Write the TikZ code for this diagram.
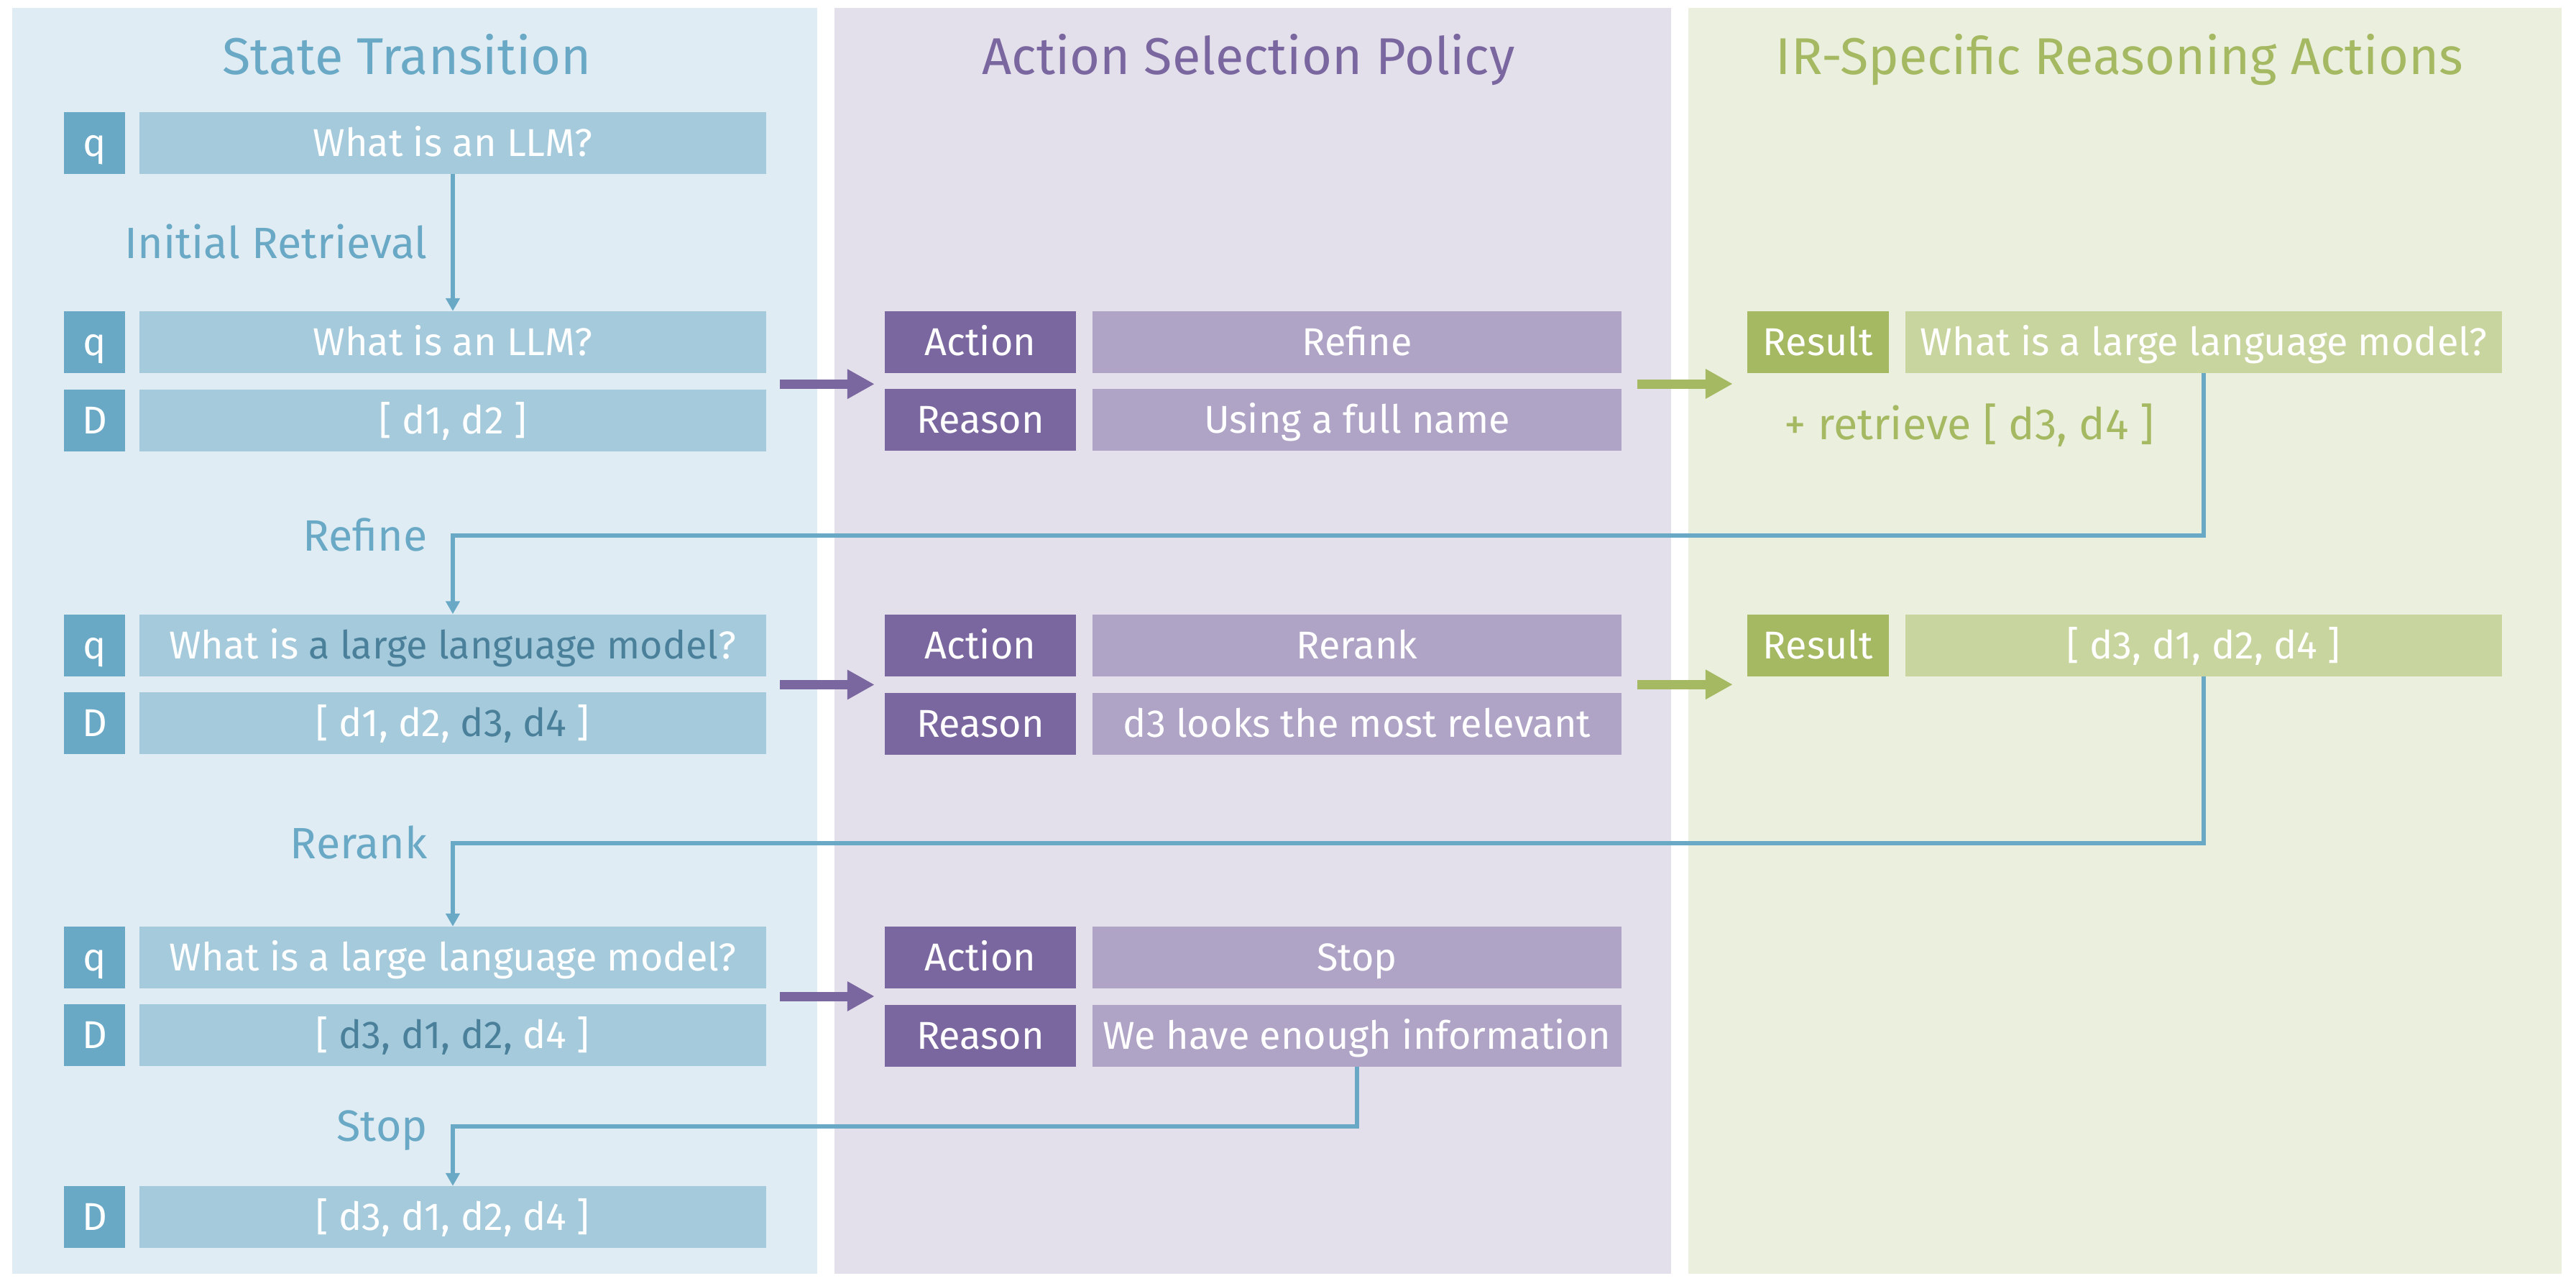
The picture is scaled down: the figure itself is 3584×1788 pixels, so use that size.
\documentclass[tikz,border=0pt]{standalone}
\usepackage{fontspec}
\setmainfont{Fira Sans}
\usetikzlibrary{arrows.meta,calc}
\definecolor{pblue}{HTML}{DFECF3}
\definecolor{ppurple}{HTML}{E3E0EC}
\definecolor{pgreen}{HTML}{EBEFDE}
\definecolor{bluedark}{HTML}{6AA9C6}
\definecolor{bluelight}{HTML}{A4CADC}
\definecolor{bluetext}{HTML}{4B809B}
\definecolor{purpledark}{HTML}{7B679F}
\definecolor{purplelight}{HTML}{AFA3C6}
\definecolor{greendark}{HTML}{A5B962}
\definecolor{greenlight}{HTML}{C8D59F}
\newcommand{\hlt}[1]{\textcolor{bluetext}{#1}}
\begin{document}
\begin{tikzpicture}[x=1pt,y=-1pt,
  bx/.style={minimum height=86pt, inner sep=0pt, text=white,
    font=\fontsize{54}{60}\selectfont, text height=37pt, text depth=0pt},
  qkey/.style={bx, fill=bluedark, minimum width=85pt},
  qval/.style={bx, fill=bluelight, minimum width=872pt},
  akey/.style={bx, fill=purpledark, minimum width=266pt},
  aval/.style={bx, fill=purplelight, minimum width=736pt},
  rkey/.style={bx, fill=greendark, minimum width=197pt},
  rval/.style={bx, fill=greenlight, minimum width=830pt},
  ttl/.style={inner sep=0pt, font=\fontsize{72}{80}\selectfont, text height=49.6pt, text depth=0pt},
  lbl/.style={inner sep=0pt, text=bluedark, font=\fontsize{61}{70}\selectfont, text height=42pt, text depth=0pt, anchor=east},
  flow/.style={draw=bluedark, line width=6pt, -{Triangle[width=19pt,length=18pt]}},
  parrow/.style={draw=purpledark, line width=13pt, -{Triangle[width=39pt,length=38pt]}},
  garrow/.style={draw=greendark, line width=13pt, -{Triangle[width=39pt,length=38pt]}}
]
\useasboundingbox (0,0) rectangle (3584,1788);
\fill[white] (0,0) rectangle (3584,1788);
\fill[pblue] (17,11) rectangle (1137,1772);
\fill[ppurple] (1161,11) rectangle (2325,1772);
\fill[pgreen] (2349,11) rectangle (3564,1772);

% titles
\node[ttl, text=bluedark] (t1) at (566,79) {State Transition};
\node[ttl, text=purpledark] (t2) at (1737,79) {Action Selection Policy};
\node[ttl, text=greendark] (t3) at (2949,79) {IR-Specific Reasoning Actions};

% column 1: states
\node[qkey] (k1) at (131.5,199) {q};
\node[qval] (v1) at (630,199) {What is an LLM?};
\node[qkey] (k2q) at (131.5,476) {q};
\node[qval] (v2q) at (630,476) {What is an LLM?};
\node[qkey] (k2d) at (131.5,584.5) {D};
\node[qval] (v2d) at (630,584.5) {[ d1, d2 ]};
\node[qkey] (k3q) at (131.5,897.5) {q};
\node[qval] (v3q) at (630,897.5) {What is \hlt{a large language model}?};
\node[qkey] (k3d) at (131.5,1005.5) {D};
\node[qval] (v3d) at (630,1005.5) {[ d1, d2, \hlt{d3, d4} ]};
\node[qkey] (k4q) at (131.5,1332) {q};
\node[qval] (v4q) at (630,1332) {What is a large language model?};
\node[qkey] (k4d) at (131.5,1440) {D};
\node[qval] (v4d) at (630,1440) {[ \hlt{d3, d1, d2,} d4 ]};
\node[qkey] (k5d) at (131.5,1693) {D};
\node[qval] (v5d) at (630,1693) {[ d3, d1, d2, d4 ]};

% column 2: policy
\node[akey] (a1) at (1364,476) {Action};
\node[aval] (a1v) at (1888,476) {Refine};
\node[akey] (r1) at (1364,584) {Reason};
\node[aval] (r1v) at (1888,584) {Using a full name};
\node[akey] (a2) at (1364,898) {Action};
\node[aval] (a2v) at (1888,898) {Rerank};
\node[akey] (r2) at (1364,1006.5) {Reason};
\node[aval] (r2v) at (1888,1006.5) {d3 looks the most relevant};
\node[akey] (a3) at (1364,1332) {Action};
\node[aval] (a3v) at (1888,1332) {Stop};
\node[akey] (r3) at (1364,1440.5) {Reason};
\node[aval] (r3v) at (1888,1440.5) {We have enough information};

% column 3: results
\node[rkey] (res1) at (2529.5,476) {Result};
\node[rval] (res1v) at (3066,476) {What is a large language model?};
\node[inner sep=0pt, text=greendark, font=\fontsize{61}{70}\selectfont, text height=42pt, text depth=0pt] (retr) at (2740,590) {+ retrieve [ d3, d4 ]};
\node[rkey] (res2) at (2529.5,898) {Result};
\node[rval] (res2v) at (3066,898) {[ d3, d1, d2, d4 ]};

% purple arrows
\coordinate (m2) at ($(v2q.south east)!.5!(v2d.north east)+(0,4)$);
\coordinate (m3) at ($(v3q.south east)!.5!(v3d.north east)+(0,1)$);
\coordinate (m4) at ($(v4q.south east)!.5!(v4d.north east)$);
\draw[parrow, shorten <=19pt, shorten >=14pt] (m2) -- (m2 -| a1.west);
\draw[parrow, shorten <=19pt, shorten >=14pt] (m3) -- (m3 -| a2.west);
\draw[parrow, shorten <=19pt, shorten >=14pt] (m4) -- (m4 -| a3.west);

% green arrows
\coordinate (g2) at ($(a1v.south east)!.5!(r1v.north east)+(0,4)$);
\coordinate (g3) at ($(a2v.south east)!.5!(r2v.north east)$);
\draw[garrow, shorten <=22pt, shorten >=20pt] (g2) -- (g2 -| res1.west);
\draw[garrow, shorten <=22pt, shorten >=20pt] (g3) -- (g3 -| res2.west);

% state transitions
\draw[flow] (v1.south) -- (v2q.north);
\draw[flow] (res1v.south) -- ++(0,226) -| (v3q.north);
\draw[flow] (res2v.south) -- ++(0,232) -| (v4q.north);
\draw[flow] (r3v.south) -- ++(0,83) -| (v5d.north);

\node[lbl] (l1) at (595,338) {Initial Retrieval};
\node[lbl] (l2) at (595,745) {Refine};
\node[lbl] (l3) at (595,1173) {Rerank};
\node[lbl] (l4) at (595,1566) {Stop};
\end{tikzpicture}
\end{document}
